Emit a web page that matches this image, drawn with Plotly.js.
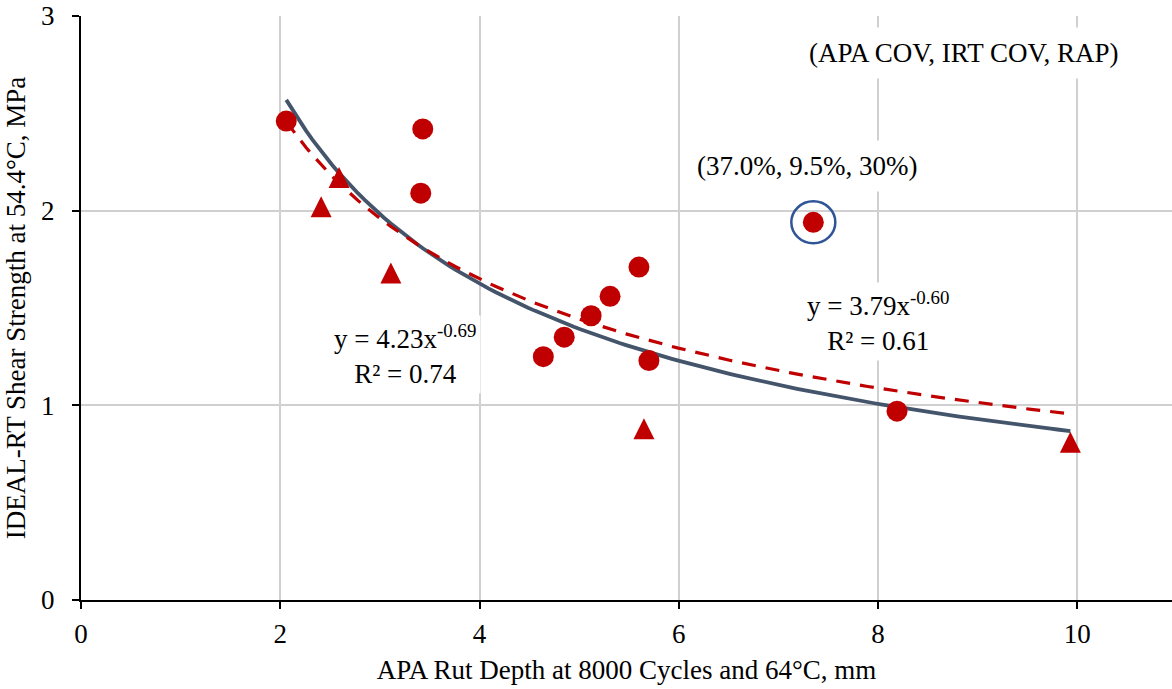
<!DOCTYPE html>
<html>
<head>
<meta charset="utf-8">
<script src="https://cdn.plot.ly/plotly-3.0.1.min.js"></script>
<style>html,body{margin:0;padding:0;background:#fff;}#chart{width:1172px;height:689px;}</style>
</head>
<body>
<div id="chart"></div>
<script>
// Circle-marker mixes: APA rut depth (mm) and IDEAL-RT shear strength (MPa)
const circleX = [2.06, 3.43, 3.41, 4.64, 4.85, 5.12, 5.31, 5.60, 5.70, 7.35, 8.19];
const circleY = [2.46, 2.42, 2.09, 1.25, 1.35, 1.46, 1.56, 1.71, 1.23, 1.94, 0.97];
// Triangle-marker mixes
const triX = [2.41, 2.59, 3.11, 5.65, 9.93];
const triY = [2.02, 2.17, 1.68, 0.88, 0.81];
// Power trendlines shown on chart: y = a * x^b
const solidFit = [4.23, -0.69];
const dashedFit = [3.79, -0.60];
const fitRange = [2.06, 9.93];
// Highlighted point and labels
const highlight = [7.35, 1.94];
const xTicks = [0, 2, 4, 6, 8, 10];
const yTicks = [0, 1, 2, 3];

function powerCurve(fit) {
  const xs = [], ys = [];
  const n = 120;
  for (let i = 0; i <= n; i++) {
    const x = fitRange[0] + (fitRange[1] - fitRange[0]) * i / n;
    xs.push(x);
    ys.push(fit[0] * Math.pow(x, fit[1]));
  }
  return {xs, ys};
}
const s = powerCurve(solidFit), d = powerCurve(dashedFit);

const font = {family: '"Liberation Serif", "Times New Roman", serif', color: '#000', size: 27};
const red = '#C00000';

const traces = [
  {x: s.xs, y: s.ys, mode: 'lines', line: {color: '#44546A', width: 3.8}, hoverinfo: 'skip'},
  {x: d.xs, y: d.ys, mode: 'lines', line: {color: red, width: 3.2, dash: '14px,10px'}, hoverinfo: 'skip'},
  {x: circleX, y: circleY, mode: 'markers', marker: {symbol: 'circle', size: 21, color: red}},
  {x: triX, y: triY, mode: 'markers', marker: {symbol: 'arrow-down', angle: 180, size: 21, standoff: 10.5, color: red}}
];

const layout = {
  width: 1172, height: 689,
  margin: {l: 81, r: 0, t: 16, b: 89},
  paper_bgcolor: '#fff', plot_bgcolor: '#fff',
  showlegend: false,
  font: font,
  xaxis: {
    range: [0, 10.95], tickvals: xTicks, ticktext: xTicks.map(String),
    showgrid: true, gridcolor: '#D0D0D0', gridwidth: 2,
    zeroline: false, showline: true, linecolor: '#000', linewidth: 2,
    ticks: 'outside', ticklen: 7, tickwidth: 2, tickcolor: '#000',
    ticklabelstandoff: 2,
    tickfont: font,
    title: {text: 'APA Rut Depth at 8000 Cycles and 64°C, mm', font: font, standoff: 12}
  },
  yaxis: {
    range: [0, 3], tickvals: yTicks, ticktext: yTicks.map(String),
    showgrid: true, gridcolor: '#D0D0D0', gridwidth: 2,
    zeroline: false, showline: true, linecolor: '#000', linewidth: 2,
    ticks: 'outside', ticklen: 7, tickwidth: 2, tickcolor: '#000',
    ticklabelstandoff: 12,
    tickfont: font,
    title: {text: 'IDEAL-RT Shear Strength at 54.4°C, MPa', font: font, standoff: 8}
  },
  shapes: [{
    type: 'circle', xref: 'x', yref: 'y',
    xsizemode: 'pixel', ysizemode: 'pixel',
    xanchor: highlight[0], yanchor: highlight[1],
    x0: -22, x1: 22, y0: -21, y1: 21,
    line: {color: '#2F5597', width: 2.5}
  }],
  annotations: [
    {x: 3.25, y: 1.26, xref: 'x', yref: 'y', showarrow: false, align: 'center',
     text: 'y = 4.23x<sup>-0.69</sup><br>R² = 0.74', font: font, bgcolor: '#fff', borderpad: 4},
    {x: 8.0, y: 1.43, xref: 'x', yref: 'y', showarrow: false, align: 'center',
     text: 'y = 3.79x<sup>-0.60</sup><br>R² = 0.61', font: font, bgcolor: '#fff', borderpad: 4},
    {x: 7.29, y: 2.23, xref: 'x', yref: 'y', showarrow: false,
     text: '(37.0%, 9.5%, 30%)', font: font, bgcolor: '#fff', borderpad: 10},
    {x: 8.86, y: 2.81, xref: 'x', yref: 'y', showarrow: false,
     text: '(APA COV, IRT COV, RAP)', font: font, bgcolor: '#fff', borderpad: 10}
  ]
};

Plotly.newPlot('chart', traces, layout, {displayModeBar: false, staticPlot: true});
</script>
</body>
</html>
